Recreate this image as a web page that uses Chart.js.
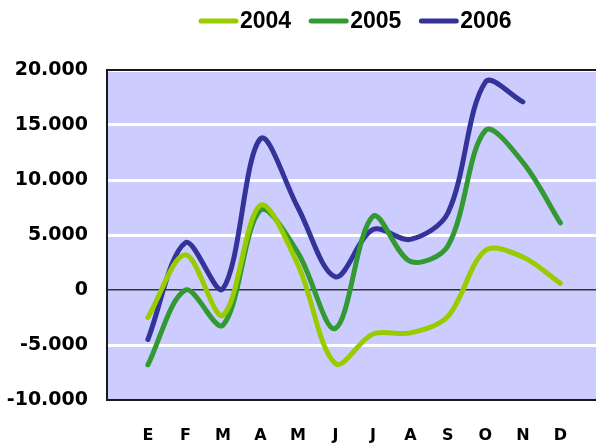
<!DOCTYPE html>
<html>
<head>
<meta charset="utf-8">
<script src="https://cdn.jsdelivr.net/npm/chart.js@4/dist/chart.umd.min.js"></script>
<style>
  html, body { margin: 0; padding: 0; background: #fff; }
  #wrap { width: 596px; height: 444px; position: relative; }
</style>
</head>
<body>
<div id="wrap"><canvas id="chart"></canvas></div>
<script>
// Month initials (Spanish) and yearly series
const months = ['E', 'F', 'M', 'A', 'M', 'J', 'J', 'A', 'S', 'O', 'N', 'D'];
const years = ['2004', '2005', '2006'];
const values2004 = [-2500, 3200, -2300, 7700, 2300, -6700, -4000, -3900, -2400, 3600, 3000, 600];
const values2005 = [-6800, 0, -3200, 7250, 3400, -3500, 6700, 2600, 4000, 14500, 11600, 6100];
const values2006 = [-4500, 4300, 100, 13750, 7500, 1200, 5500, 4600, 7000, 18900, 17100];
const yTicks = [-10000, -5000, 0, 5000, 10000, 15000, 20000];
const colors = ['#99cc00', '#339933', '#333399'];

function toPoints(arr) {
  return arr.map((v, i) => ({ x: i, y: v }));
}

function fmt(v) {
  const s = Math.abs(v).toString().replace(/\B(?=(\d{3})+(?!\d))/g, '.');
  return (v < 0 ? '-' : '') + s;
}

// Plot background, frame and the legend drawn at the top
const framePlugin = {
  id: 'frame',
  beforeDraw(chart) {
    const { ctx, chartArea: a } = chart;
    ctx.save();
    ctx.fillStyle = '#ccccff';
    ctx.fillRect(a.left, a.top, a.right - a.left, a.bottom - a.top);
    ctx.restore();
  },
  afterDraw(chart) {
    const { ctx, chartArea: a } = chart;
    ctx.save();
    ctx.strokeStyle = '#1a1a1a';
    ctx.lineWidth = 2;
    ctx.beginPath();
    ctx.moveTo(a.right, a.top);
    ctx.lineTo(a.left, a.top);
    ctx.lineTo(a.left, a.bottom);
    ctx.lineTo(a.right, a.bottom);
    ctx.stroke();

    // legend
    ctx.font = 'bold 23px "Liberation Sans", Arial, sans-serif';
    ctx.textBaseline = 'middle';
    let x = 201;
    const y = 21;
    chart.data.datasets.forEach(ds => {
      ctx.strokeStyle = ds.borderColor;
      ctx.lineWidth = 5;
      ctx.lineCap = 'round';
      ctx.beginPath();
      ctx.moveTo(x, y);
      ctx.lineTo(x + 35, y);
      ctx.stroke();
      ctx.fillStyle = '#000';
      ctx.fillText(ds.label, x + 39, y + 1);
      x += 39 + ctx.measureText(ds.label).width + 20;
    });
    ctx.restore();
  }
};

const ctx = document.getElementById('chart').getContext('2d');

new Chart(ctx, {
  type: 'line',
  data: {
    datasets: [
      { label: years[0], data: toPoints(values2004), borderColor: colors[0] },
      { label: years[1], data: toPoints(values2005), borderColor: colors[1] },
      { label: years[2], data: toPoints(values2006), borderColor: colors[2] }
    ].map(d => Object.assign(d, {
      borderWidth: 5,
      tension: 0.33,
      pointRadius: 0,
      borderCapStyle: 'round',
      borderJoinStyle: 'round',
      fill: false
    }))
  },
  options: {
    responsive: true,
    maintainAspectRatio: false,
    animation: false,
    layout: { padding: { top: 70, left: 0, right: 0, bottom: 0 } },
    plugins: {
      legend: { display: false },
      tooltip: { enabled: false }
    },
    scales: {
      x: {
        type: 'linear',
        min: -1.09,
        max: 11.95,
        afterBuildTicks: scale => {
          scale.ticks = months.map((m, i) => ({ value: i }));
        },
        afterFit: scale => { scale.height = 44; },
        grid: { display: false, drawTicks: false },
        border: { display: false },
        ticks: {
          autoSkip: false,
          maxRotation: 0,
          padding: 26,
          color: '#000',
          font: { family: '"DejaVu Sans", sans-serif', weight: 'bold', size: 16 },
          callback: v => months[v]
        }
      },
      y: {
        min: -10000,
        max: 20000,
        afterBuildTicks: scale => {
          scale.ticks = yTicks.map(v => ({ value: v }));
        },
        afterFit: scale => { scale.width = 107; },
        border: { display: false },
        grid: {
          drawTicks: false,
          color: c => c.tick.value === 0 ? '#333333' : '#ffffff',
          lineWidth: c => c.tick.value === 0 ? 1.5 : 3
        },
        ticks: {
          padding: 19,
          color: '#000',
          font: { family: '"DejaVu Sans", sans-serif', weight: 'bold', size: 19 },
          callback: v => fmt(v)
        }
      }
    }
  },
  plugins: [framePlugin]
});
</script>
</body>
</html>
